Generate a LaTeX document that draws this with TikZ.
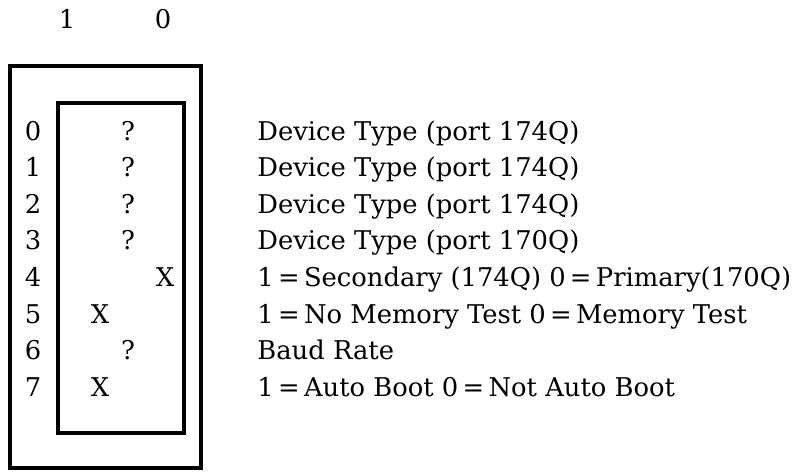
\documentclass[tikz,border=0pt]{standalone}
\usepackage{fontspec}
\setmainfont{DejaVu Serif}
\usetikzlibrary{positioning}

\begin{document}
\begin{tikzpicture}[x=0.5pt, y=-0.5pt, font=\fontsize{12.9}{15}\selectfont,
    frame/.style={draw, line width=1.6pt},
    bitlbl/.style={anchor=base, inner sep=0pt},
    setting/.style={anchor=base, inner sep=0pt},
    desc/.style={anchor=base west, inner sep=0pt}]
  \useasboundingbox (0,0) rectangle (802,471);

  %% column headings
  \node[bitlbl] (h1) at (67,28) {1};
  \node[bitlbl] (h0) at (163,28) {0};

  %% switch body
  \draw[frame] (10,66) rectangle (201,468);
  \draw[frame] (58,103) rectangle (184,433);

  %% rows: bit number, setting, meaning
  \foreach \i/\x/\m/\txt in {
      0/128/?/{Device Type (port 174Q)},
      1/128/?/{Device Type (port 174Q)},
      2/128/?/{Device Type (port 174Q)},
      3/128/?/{Device Type (port 170Q)},
      4/165/X/{1\,=\,Secondary (174Q) 0\,=\,Primary(170Q)},
      5/100/X/{1\,=\,No Memory Test 0\,=\,Memory Test},
      6/128/?/{Baud Rate},
      7/100/X/{1\,=\,Auto Boot 0\,=\,Not Auto Boot}} {
    \node[bitlbl]  (b\i) at (33,140+36.6*\i) {\i};
    \node[setting] (m\i) at (\x,140+36.6*\i) {\m};
    \node[desc]    (d\i) at (257,140+36.6*\i) {\txt};
  }
\end{tikzpicture}
\end{document}
